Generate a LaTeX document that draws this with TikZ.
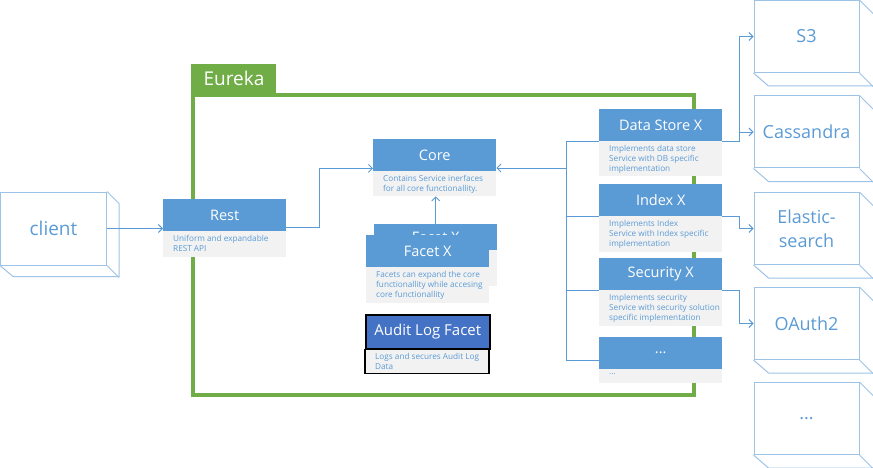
\documentclass[tikz,border=0pt]{standalone}
\usepackage{fontspec}
\setmainfont{Open Sans}
\usetikzlibrary{positioning, arrows.meta}
\definecolor{hdrblue}{HTML}{5B9BD5}
\definecolor{auditblue}{HTML}{4472C4}
\definecolor{descgray}{HTML}{F2F2F2}
\definecolor{eurgreen}{HTML}{70AD47}
\definecolor{boxline}{HTML}{9DC3E6}
\newcommand{\tridots}{...}
\tikzset{
  hdr/.style={fill=hdrblue, text=white, anchor=north west, minimum width=123pt,
    minimum height=32pt, inner sep=0pt, font=\fontsize{14.5}{16}\selectfont},
  dsctxt/.style={anchor=north west, text=hdrblue, align=left, inner sep=0pt,
    font=\fontsize{8.2}{10}\selectfont},
  store/.style={draw=boxline, line width=1pt, minimum width=105pt, minimum height=72pt,
    text=hdrblue, align=center, inner sep=0pt, font=\fontsize{18}{24}\selectfont},
  storeline/.style={draw=boxline, line width=1pt},
  conn/.style={draw=hdrblue, line width=0.9pt},
  arr/.style={conn, -{Straight Barb[length=4pt,width=8pt]}}
}
\begin{document}
\begin{tikzpicture}[x=1pt,y=-1pt]
\useasboundingbox (0,0) rectangle (873,468);

% Eureka frame and tab
\draw[eurgreen, line width=3.5pt] (193,95) rectangle (694,395);
\node[fill=eurgreen, text=white, anchor=south west, minimum width=85pt, minimum height=30pt,
  inner sep=0pt, font=\fontsize{19}{22}\selectfont] (eureka) at (191.25,94) {Eureka};

% client
\node[store, minimum width=106pt, minimum height=73pt, font=\fontsize{19}{22}\selectfont]
  (client) at (53.5,228.5) {client};
\draw[storeline] (client.north east) -- ++(12,12) -- ++(0,73) -- ++(-106,0) -- (client.south west);
\draw[storeline] (client.south east) -- ++(12,12);

% Rest
\node[hdr] (rest) at (163,199) {Rest};
\fill[descgray] (rest.south west) rectangle ++(123,26);
\node[dsctxt] (restd) at ([xshift=10pt,yshift=-4pt]rest.south west) {Uniform and expandable\\REST API};

% Core
\node[hdr] (core) at (373,139) {Core};
\fill[descgray] (core.south west) rectangle ++(123,25);
\node[dsctxt] (cored) at ([xshift=10pt,yshift=-4pt]core.south west) {Contains Service inerfaces\\for all core functionallity.};
\coordinate (corebot) at ([yshift=-25pt]core.south);

% Facet X (back copy, then front)
\node[hdr, minimum height=26pt] (facetb) at (374,224) {\raisebox{-2pt}{Facet X}};
\fill[descgray] (facetb.south west) rectangle ++(123,36);
\node[hdr] (facet) at (366,235) {Facet X};
\fill[descgray] (facet.south west) rectangle ++(123,36);
\node[dsctxt] (facetd) at ([xshift=10pt,yshift=-4pt]facet.south west) {Facets can expand the core\\functionallity while accesing\\core functionallity};

% Audit Log Facet
\node[hdr, fill=auditblue, draw=black, line width=1.5pt, minimum width=124pt, minimum height=34pt,
  font=\fontsize{15}{17}\selectfont] (audit) at (365,314) {Audit Log Facet};
\filldraw[fill=descgray, draw=black, line width=1.5pt] (audit.south west) rectangle ++(124,24);
\node[dsctxt] (auditd) at ([xshift=10pt,yshift=-4pt]audit.south west) {Logs and secures Audit Log\\Data};

% service implementations
\foreach \n/\t/\y/\h/\d in {ds/Data Store X/109/35/{Implements data store\\Service with DB specific\\implementation},
  idx/Index X/184/36/{Implements Index\\Service with Index specific\\implementation},
  sec/Security X/258/36/{Implements security\\Service with security solution\\specific implementation},
  more/\tridots/337/14/\tridots}{
  \node[hdr] (\n) at (599,\y) {\t};
  \fill[descgray] (\n.south west) rectangle ++(123,\h);
  \node[dsctxt] (\n d) at ([xshift=10pt,yshift=-4pt]\n.south west) {\d};
}

% storage back ends
\foreach \n/\t/\y in {s3/S3/36.5, cas/Cassandra/132, ela/{Elastic-\\search}/228.5,
  oau/OAuth2/323.5, dots/\tridots/418.5}{
  \node[store] (\n) at (806.5,\y) {\t};
  \draw[storeline] (\n.north east) -- ++(14,14) -- ++(0,72) -- ++(-105,0) -- (\n.south west);
  \draw[storeline] (\n.south east) -- ++(14,14);
}

% connectors
\draw[arr] (client.east) -- (client.east -| rest.west);
\draw[arr] ([yshift=4pt]rest.south east) -- ++(33,0) |- ([yshift=3pt]core.south west);
\draw[arr] (facetb.north) -- (facetb.north |- corebot);

\coordinate (bus) at (566,168);
\coordinate (busend) at (566,360);
\draw[arr] (bus) -- (bus -| core.east);
\draw[conn] (ds.south west) -| (busend) -- (busend -| more.west);
\draw[conn] (idx.south west) -- (idx.south west -| bus);
\draw[conn] (sec.south west) -- (sec.south west -| bus);

\draw[arr] (ds.south east) -- ++(17,0) |- (s3.west);
\draw[arr] (ds.south east) -- ++(17,0) |- (cas.west);
\draw[arr] (idx.south east) -- ++(17,0) |- (ela.west);
\draw[arr] (sec.south east) -- ++(17,0) |- (oau.west);
\end{tikzpicture}
\end{document}
